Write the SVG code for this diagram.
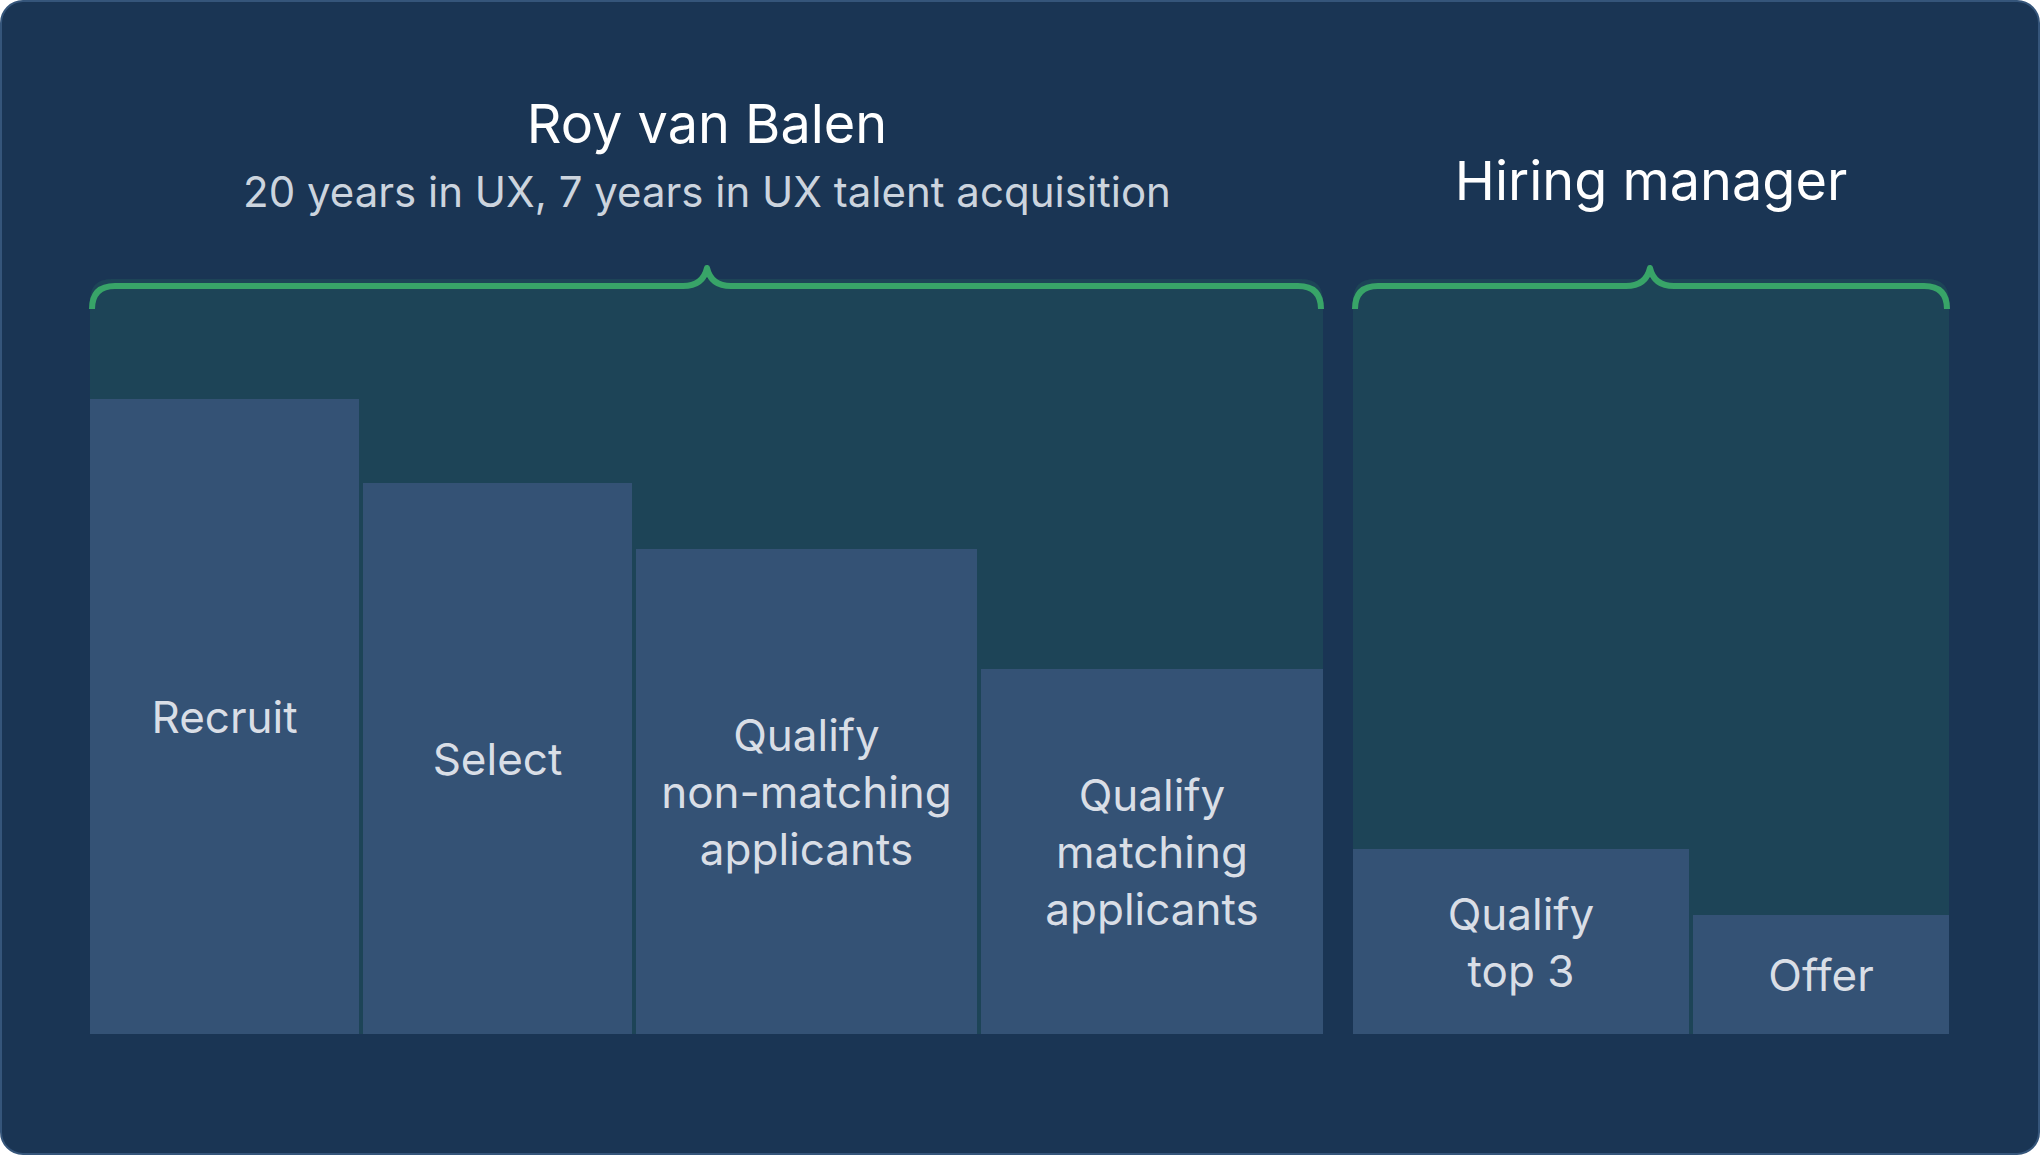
<svg xmlns="http://www.w3.org/2000/svg" width="2040" height="1155" viewBox="0 0 2040 1155">
<style>
.panel{fill:#1d4457}
.blk{fill:#345275}
.brace{fill:none;stroke:#38a468;stroke-width:6;stroke-linecap:butt;stroke-linejoin:round}
.lbl{font-family:Inter,"Noto Sans",sans-serif;font-size:44px;fill:#d9dee6;text-anchor:middle}
.title{font-family:Inter,"Noto Sans",sans-serif;font-size:54px;fill:#ffffff;text-anchor:middle}
.sub{font-family:Inter,"Noto Sans",sans-serif;font-size:42px;fill:#ccd4de;text-anchor:middle}
</style>
<rect x="1" y="1" width="2038" height="1153" rx="22" fill="#1a3554" stroke="#35557a" stroke-width="2"/>
<g id="panel-roy">
<path class="panel" d="M90 1034 V301 Q90 279 112 279 H1301 Q1323 279 1323 301 V1034 Z"/>
</g>
<g id="panel-hm">
<path class="panel" d="M1353 1034 V301 Q1353 279 1375 279 H1927 Q1949 279 1949 301 V1034 Z"/>
</g>
<g id="header-roy">
<text class="title" x="707" y="143">Roy van Balen</text>
<text class="sub" x="707" y="207">20 years in UX, 7 years in UX talent acquisition</text>
</g>
<g id="header-hm">
<text class="title" x="1651" y="200">Hiring manager</text>
</g>
<g id="connectors">
<path class="brace" d="M92 309 Q92 286 115 286 H683 Q703 286 707 268 Q711 286 731 286 H1298 Q1321 286 1321 309"/>
<path class="brace" d="M1355 309 Q1355 286 1378 286 H1626 Q1646 286 1650 268 Q1654 286 1674 286 H1924 Q1947 286 1947 309"/>
</g>
<g id="recruit">
<rect class="blk" x="90" y="399" width="269" height="635"/>
<text class="lbl" x="224.5" y="733">Recruit</text>
</g>
<g id="select">
<rect class="blk" x="363" y="483" width="269" height="551"/>
<text class="lbl" x="497.5" y="775">Select</text>
</g>
<g id="qualify-nonmatching">
<rect class="blk" x="636" y="549" width="341" height="485"/>
<text class="lbl" x="806.5" y="751">Qualify</text>
<text class="lbl" x="806.5" y="808">non-matching</text>
<text class="lbl" x="806.5" y="865">applicants</text>
</g>
<g id="qualify-matching">
<rect class="blk" x="981" y="669" width="342" height="365"/>
<text class="lbl" x="1152" y="811">Qualify</text>
<text class="lbl" x="1152" y="868">matching</text>
<text class="lbl" x="1152" y="925">applicants</text>
</g>
<g id="qualify-top3">
<rect class="blk" x="1353" y="849" width="336" height="185"/>
<text class="lbl" x="1521" y="930">Qualify</text>
<text class="lbl" x="1521" y="987">top 3</text>
</g>
<g id="offer">
<rect class="blk" x="1693" y="915" width="256" height="119"/>
<text class="lbl" x="1821" y="991">Offer</text>
</g>
</svg>
